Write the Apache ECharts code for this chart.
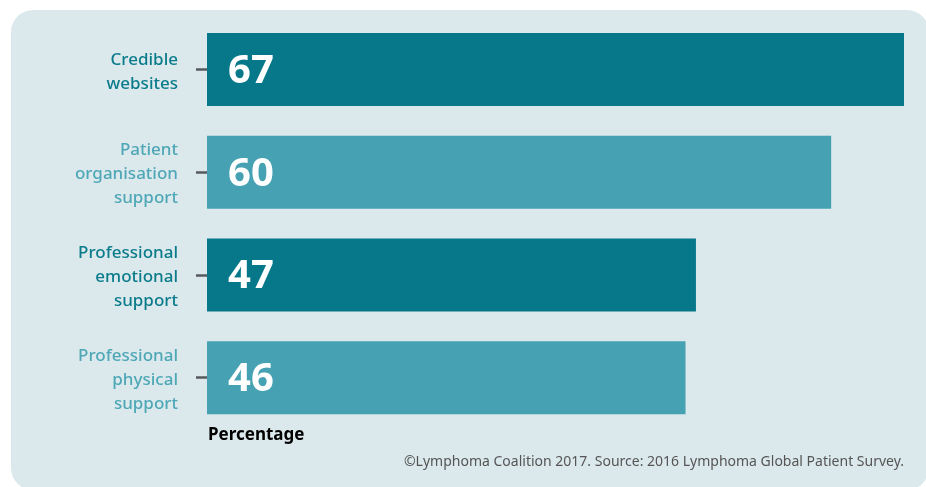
<!DOCTYPE html>
<html>
<head>
<meta charset="utf-8">
<script src="https://cdn.jsdelivr.net/npm/echarts@6/dist/echarts.min.js"></script>
<style>
  html, body { margin: 0; padding: 0; background: #ffffff; }
  #chart { width: 926px; height: 487px; }
</style>
</head>
<body>
<div id="chart"></div>
<script>
// Sources of information used by patients (percentage)
const categories = [
  'Credible\nwebsites',
  'Patient\norganisation\nsupport',
  'Professional\nemotional\nsupport',
  'Professional\nphysical\nsupport'
];
const values = [67, 60, 47, 46];
const axisTitle = 'Percentage';
const sourceNote = '\u00A9Lymphoma Coalition 2017. Source: 2016 Lymphoma Global Patient Survey.';

const darkTeal = '#067889';
const lightTeal = '#46a2b3';
const rowColors = [darkTeal, lightTeal, darkTeal, lightTeal];
const labelStyles = ['dark', 'light', 'dark', 'light'];

const labelFont = {
  fontFamily: '"Noto Sans", sans-serif',
  fontSize: 17,
  fontWeight: 500,
  lineHeight: 24,
  align: 'right'
};

const chart = echarts.init(document.getElementById('chart'), null, { renderer: 'canvas' });

chart.setOption({
  backgroundColor: '#ffffff',
  animation: false,
  graphic: [
    {
      type: 'rect',
      z: -10,
      shape: { x: 11, y: 10, width: 918, height: 480, r: 22 },
      style: { fill: '#dce9ec' }
    },
    {
      type: 'text',
      left: 208,
      top: 427,
      style: {
        text: axisTitle,
        fill: '#000000',
        font: 'bold 17px "Noto Sans", sans-serif'
      }
    },
    {
      type: 'text',
      right: 22,
      top: 455,
      style: {
        text: sourceNote,
        fill: '#555555',
        font: '14px "Noto Sans", sans-serif'
      }
    }
  ],
  grid: { left: 207, right: 22, top: 18, height: 411, containLabel: false },
  xAxis: {
    type: 'value',
    min: 0,
    max: 67,
    show: false
  },
  yAxis: {
    type: 'category',
    inverse: true,
    data: categories,
    axisLine: { show: false },
    axisTick: {
      show: true,
      alignWithLabel: true,
      length: 11,
      lineStyle: { color: '#555b5d', width: 2.5 }
    },
    axisLabel: {
      margin: 29,
      align: 'right',
      formatter: function (value, index) {
        const key = labelStyles[index];
        // a thin spacer line on top nudges the block down a few pixels
        return '{gap| }\n' + value.split('\n').map(function (line) {
          return '{' + key + '|' + line + '}';
        }).join('\n');
      },
      rich: {
        gap: { fontSize: 1, lineHeight: 5 },
        dark: Object.assign({ color: '#0a7b8b' }, labelFont),
        light: Object.assign({ color: '#4ea7b6' }, labelFont)
      }
    },
    splitLine: { show: false }
  },
  series: [
    {
      type: 'bar',
      data: values,
      barWidth: 73,
      itemStyle: {
        color: function (p) { return rowColors[p.dataIndex]; }
      },
      label: {
        show: true,
        position: 'insideLeft',
        distance: 21,
        offset: [0, 2],
        color: '#ffffff',
        fontFamily: '"Noto Sans", sans-serif',
        fontWeight: 'bold',
        fontSize: 40
      }
    }
  ]
});
</script>
</body>
</html>
